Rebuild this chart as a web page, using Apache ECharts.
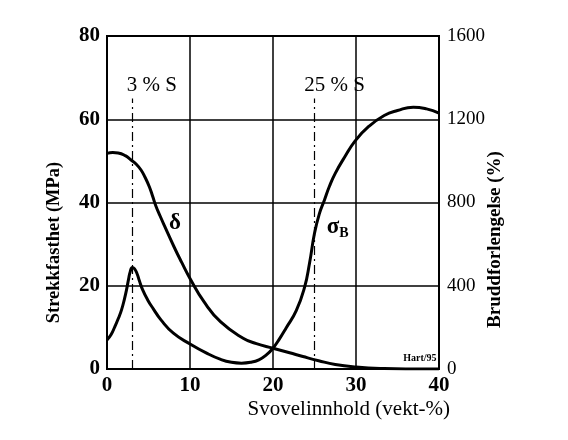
<!DOCTYPE html>
<html>
<head>
<meta charset="utf-8">
<script src="https://cdn.jsdelivr.net/npm/echarts@6/dist/echarts.min.js"></script>
<style>
  html, body { margin: 0; padding: 0; background: #fff; }
  #main { width: 568px; height: 440px; }
</style>
</head>
<body>
<div id="main"></div>
<script>
// svovelinnhold (vekt-%) og strekkfasthet sigma_B (MPa)
const sigmaX = [0, 0.5, 0.95, 1.4, 1.75, 2.1, 2.35, 2.6, 2.8, 3.05, 3.3, 3.6, 3.9, 4.3, 4.9, 5.6, 6.5, 8, 10, 12, 13.7, 15, 16.2, 17.3, 18.3, 19.2, 20, 20.8, 21.6, 22.8, 23.8, 24.4, 25, 25.6, 26.2, 26.8, 27.5, 28.6, 29.9, 31.5, 33.4, 35, 36.9, 38.5, 40];
const sigmaY = [7, 8.3, 10.2, 12.3, 14.2, 16.8, 19, 21.6, 23.4, 24.4, 24.1, 23, 21.2, 19, 16.6, 14.4, 11.8, 8.6, 6, 3.8, 2.3, 1.6, 1.4, 1.6, 2.2, 3.4, 5, 7.3, 9.9, 14, 19.6, 25.4, 32.6, 37.4, 40.6, 43.9, 47, 50.8, 54.8, 58.2, 60.9, 62.1, 62.9, 62.5, 61.5];

// bruddforlengelse delta (%)
const deltaX = [0, 0.7, 1.35, 2.2, 2.9, 3.5, 4.1, 4.6, 5.1, 5.5, 5.9, 6.4, 6.9, 8.1, 9, 10, 11.7, 13.7, 16.4, 18, 20, 22, 23.6, 25.5, 27.5, 30, 33.4, 36, 40];
const deltaY = [1036, 1040, 1038, 1025, 1004, 985, 956, 920, 876, 830, 782, 735, 690, 585, 512, 435, 322, 226, 148, 122, 100, 78, 60, 40, 22, 10, 2, 0, 0];

// stiplede linjer ved 3 % og 25 % S
const markX = [3, 25];
const markText = ['3 % S', '25 % S'];

const tickFont = 'Liberation Serif';

function pairs(xs, ys) {
    return xs.map(function (v, i) { return [v, ys[i]]; });
}

let chart = echarts.init(document.getElementById('main'));

chart.setOption({
    animation: false,
    grid: {
        left: 107,
        right: 129,
        top: 36,
        bottom: 71,
        show: true,
        borderColor: '#000',
        borderWidth: 2
    },
    xAxis: {
        type: 'value',
        min: 0,
        max: 40,
        interval: 10,
        name: 'Svovelinnhold (vekt-%)',
        nameLocation: 'end',
        nameGap: 11,
        nameMoveOverlap: false,
        nameTextStyle: {
            fontFamily: tickFont, fontSize: 21, color: '#000',
            align: 'right', verticalAlign: 'top', padding: [30, 0, 0, 0]
        },
        axisLine: { lineStyle: { color: '#000', width: 2 } },
        axisTick: { show: false },
        axisLabel: { fontFamily: tickFont, fontSize: 21, fontWeight: 'bold', color: '#000', margin: 6 },
        splitLine: { lineStyle: { color: '#000', width: 1.5 } }
    },
    yAxis: [
        {
            type: 'value',
            min: 0,
            max: 80,
            interval: 20,
            name: 'Strekkfasthet (MPa)',
            nameLocation: 'middle',
            nameGap: 43,
            nameTextStyle: { fontFamily: tickFont, fontSize: 18.5, fontWeight: 'bold', color: '#000', padding: [0, 80, 0, 0] },
            axisLine: { show: true, lineStyle: { color: '#000', width: 2 } },
            axisTick: { show: false },
            axisLabel: { fontFamily: tickFont, fontSize: 21, fontWeight: 'bold', color: '#000', margin: 7 },
            splitLine: { lineStyle: { color: '#000', width: 1.5 } }
        },
        {
            type: 'value',
            min: 0,
            max: 1600,
            interval: 400,
            position: 'right',
            name: 'Bruddforlengelse (%)',
            nameLocation: 'middle',
            nameGap: 47,
            nameMoveOverlap: false,
            nameTextStyle: { fontFamily: tickFont, fontSize: 19, fontWeight: 'bold', color: '#000', padding: [0, 74, 0, 0] },
            axisLine: { show: true, lineStyle: { color: '#000', width: 2 } },
            axisTick: { show: false },
            axisLabel: {
                fontFamily: tickFont, fontSize: 19, color: '#000', margin: 8,
                formatter: function (v) { return String(v); }
            },
            splitLine: { show: false }
        }
    ],
    series: [
        {
            name: 'sigmaB',
            type: 'line',
            yAxisIndex: 0,
            smooth: 0.5,
            symbol: 'none',
            lineStyle: { color: '#000', width: 3 },
            data: pairs(sigmaX, sigmaY),
            markLine: {
                silent: true,
                symbol: 'none',
                label: { show: false },
                lineStyle: { color: '#000', width: 1.2, type: [9, 4, 2, 4] },
                data: markX.map(function (v) {
                    return [{ coord: [v, 0] }, { coord: [v, 65] }];
                })
            },
            markPoint: {
                symbol: 'circle',
                symbolSize: 0,
                label: {
                    show: true,
                    color: '#000',
                    fontFamily: tickFont,
                    fontSize: 21,
                    position: 'inside'
                },
                data: markX.map(function (v, i) {
                    return { coord: [v, 68], value: markText[i], label: { offset: [20, 0], formatter: markText[i] } };
                }).concat([
                    {
                        coord: [27.8, 34],
                        label: {
                            formatter: '{s|σ}{b|B}',
                            rich: {
                                s: { fontFamily: tickFont, fontSize: 23, fontWeight: 'bold', color: '#000' },
                                b: { fontFamily: tickFont, fontSize: 14, fontWeight: 'bold', color: '#000', padding: [12, 0, 0, 0] }
                            }
                        }
                    },
                    {
                        coord: [37.7, 2.6],
                        label: { formatter: 'Hart/95', fontSize: 10, fontWeight: 'bold' }
                    }
                ])
            }
        },
        {
            name: 'delta',
            type: 'line',
            yAxisIndex: 1,
            smooth: 0.5,
            symbol: 'none',
            lineStyle: { color: '#000', width: 3 },
            data: pairs(deltaX, deltaY),
            markPoint: {
                symbol: 'circle',
                symbolSize: 0,
                label: {
                    show: true,
                    color: '#000',
                    fontFamily: tickFont,
                    fontSize: 23,
                    fontWeight: 'bold',
                    position: 'inside',
                    formatter: 'δ'
                },
                data: [{ coord: [8.2, 700] }]
            }
        }
    ]
});
</script>
</body>
</html>
